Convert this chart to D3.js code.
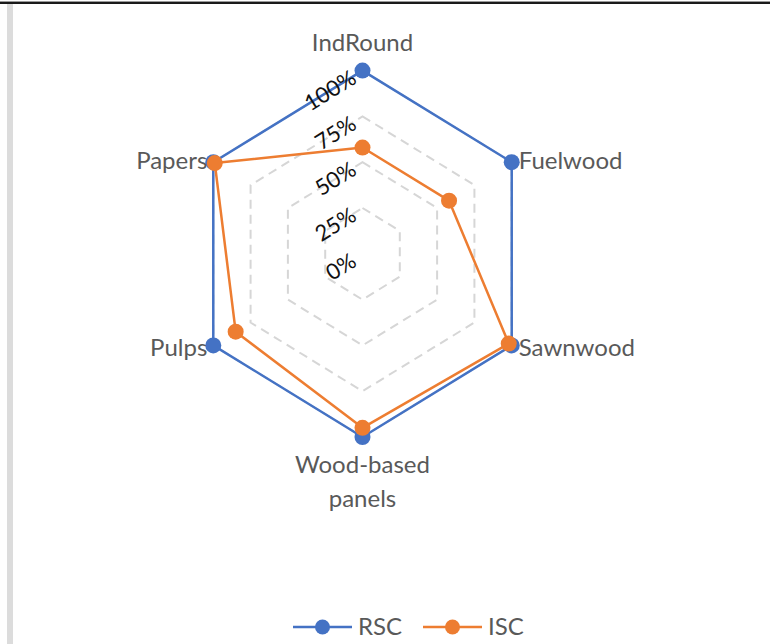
<!DOCTYPE html>
<html>
<head>
<meta charset="utf-8">
<script src="https://cdn.jsdelivr.net/npm/d3@7/dist/d3.min.js"></script>
<style>
  html, body { margin: 0; padding: 0; background: #fff; }
  svg { display: block; }
  text { font-family: Lato, "Open Sans", sans-serif; }
</style>
</head>
<body>
<svg id="chart" width="770" height="644"></svg>
<script>
// Product groups around the radar, clockwise from the top
const categories = ["IndRound", "Fuelwood", "Sawnwood", "Wood-based panels", "Pulps", "Papers"];
// Series values (share, 0..1)
const rscValues = [1.00, 1.00, 1.00, 1.00, 1.00, 1.00];
const iscValues = [0.58, 0.58, 0.98, 0.95, 0.85, 0.99];
// Radial axis ticks
const tickValues = [0, 0.25, 0.5, 0.75, 1];
const tickLabels = ["0%", "25%", "50%", "75%", "100%"];
const seriesNames = ["RSC", "ISC"];
const seriesColors = ["#4472C4", "#ED7D31"];

const svg = d3.select("#chart");
const W = 770, H = 644;

// frame: top rule and left gutter
svg.append("rect").attr("x", 0).attr("y", 1).attr("width", W).attr("height", 1).attr("fill", "#9a9a9a");
svg.append("rect").attr("x", 0).attr("y", 2).attr("width", W).attr("height", 2).attr("fill", "#1a1a1a");
svg.append("rect").attr("x", 7).attr("y", 4).attr("width", 6).attr("height", H - 4).attr("fill", "#dcdcdc");

const cx = 362.5, cy = 253.8;
const rx = d3.scaleLinear().domain([0, 1]).range([0, 172.3]);
const ry = d3.scaleLinear().domain([0, 1]).range([0, 183.2]);
const angle = d3.scalePoint().domain(d3.range(categories.length)).range([0, 2 * Math.PI * (categories.length - 1) / categories.length]);

function pt(i, v) {
  const a = angle(i);
  return [cx + rx(v) * Math.sin(a), cy - ry(v) * Math.cos(a)];
}

const lineGen = d3.line().curve(d3.curveLinearClosed);

// dashed hexagon gridlines
const g = svg.append("g");
tickValues.filter(t => t > 0).forEach(t => {
  g.append("path")
    .attr("d", lineGen(categories.map((c, i) => pt(i, t))))
    .attr("fill", "none")
    .attr("stroke", "#d6d6d6")
    .attr("stroke-width", 2)
    .attr("stroke-dasharray", "9,6");
});

// series
const series = [rscValues, iscValues];
series.forEach((vals, s) => {
  const sg = svg.append("g");
  sg.append("path")
    .attr("d", lineGen(vals.map((v, i) => pt(i, v))))
    .attr("fill", "none")
    .attr("stroke", seriesColors[s])
    .attr("stroke-width", 2.5)
    .attr("stroke-linejoin", "round");
  sg.selectAll("circle").data(vals).join("circle")
    .attr("cx", (v, i) => pt(i, v)[0])
    .attr("cy", (v, i) => pt(i, v)[1])
    .attr("r", 8)
    .attr("fill", seriesColors[s]);
});

// radial tick labels, rotated
const tickFs = 22;
tickValues.forEach((t, k) => {
  svg.append("text")
    .attr("transform", `translate(${cx - 13},${cy - ry(t) - 2}) rotate(-32)`)
    .attr("y", tickFs * 0.72)
    .attr("text-anchor", "end")
    .attr("font-size", tickFs)
    .attr("fill", "#111")
    .text(tickLabels[k]);
});

// category labels
const catFs = 24;
const labelColor = "#595959";
categories.forEach((c, i) => {
  const [x, y] = pt(i, 1);
  const a = angle(i);
  const s = Math.sin(a);
  let anchor = "middle", lx = x, ly = y;
  if (s > 0.1) { anchor = "start"; lx = x + 7; }
  else if (s < -0.1) { anchor = "end"; lx = x - 6; }
  const t = svg.append("text")
    .attr("text-anchor", anchor)
    .attr("font-size", catFs)
    .attr("fill", labelColor);
  if (Math.abs(s) > 0.1) {
    t.attr("x", lx).attr("y", ly + (Math.cos(a) < 0 ? 11 : 7)).text(c);
  } else if (Math.cos(a) > 0) {
    t.attr("x", lx).attr("y", ly - 20).text(c);
  } else {
    const parts = ["Wood-based", "panels"];
    parts.forEach((p, j) => {
      t.append("tspan").attr("x", lx).attr("y", ly + 36 + j * 34).text(p);
    });
  }
});

// legend
const legend = svg.append("g").attr("transform", "translate(0,627)");
const legendX = [293, 423];
seriesNames.forEach((n, s) => {
  const x0 = legendX[s];
  legend.append("line").attr("x1", x0).attr("x2", x0 + 59).attr("y1", 0).attr("y2", 0)
    .attr("stroke", seriesColors[s]).attr("stroke-width", 2.5);
  legend.append("circle").attr("cx", x0 + 29.5).attr("cy", 0).attr("r", 7.5).attr("fill", seriesColors[s]);
  legend.append("text").attr("x", x0 + 65).attr("y", 8).attr("font-size", catFs)
    .attr("fill", labelColor).text(n);
});
</script>
</body>
</html>
